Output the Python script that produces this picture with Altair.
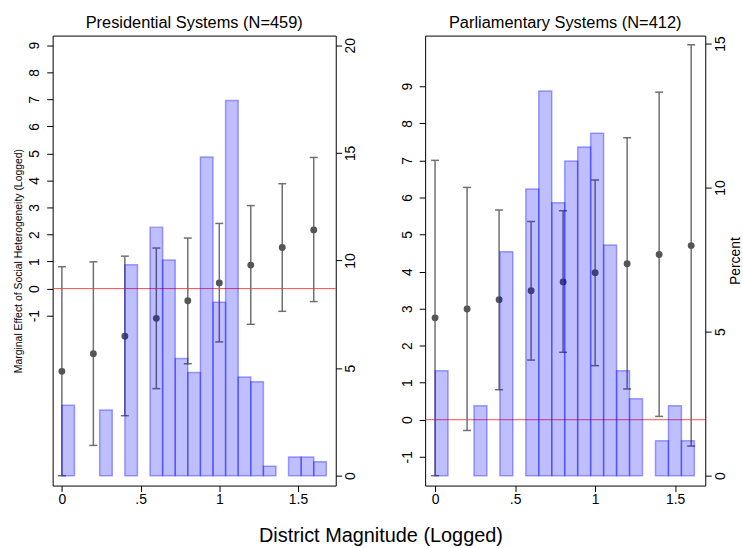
import altair as alt
import pandas as pd

FONT = "Liberation Sans"

# Points at which the marginal effect is evaluated (logged district magnitude)
me_x = [0.0, 0.2, 0.4, 0.6, 0.8, 1.0, 1.2, 1.4, 1.6]

# Presidential systems: marginal effect and 95% confidence bounds
pres_me = [-3.06, -2.41, -1.76, -1.10, -0.45, 0.21, 0.87, 1.52, 2.17]
pres_lo = [-6.92, -5.80, -4.70, -3.70, -2.78, -1.97, -1.32, -0.84, -0.48]
pres_hi = [0.81, 0.99, 1.20, 1.50, 1.87, 2.41, 3.07, 3.88, 4.85]

# Parliamentary systems: marginal effect and 95% confidence bounds
parl_me = [2.75, 2.99, 3.24, 3.48, 3.72, 3.97, 4.21, 4.46, 4.70]
parl_lo = [-1.51, -0.29, 0.81, 1.61, 1.82, 1.46, 0.83, 0.09, -0.71]
parl_hi = [7.00, 6.27, 5.66, 5.35, 5.64, 6.47, 7.61, 8.84, 10.12]

# Histogram of district magnitude (percent of observations per bin)
pres_bin_lo = [0.00, 0.24, 0.40, 0.56, 0.64, 0.72, 0.80, 0.88, 0.96, 1.04,
               1.12, 1.20, 1.28, 1.44, 1.52, 1.60]
pres_bin_hi = [0.08, 0.32, 0.48, 0.64, 0.72, 0.80, 0.88, 0.96, 1.04, 1.12,
               1.20, 1.28, 1.36, 1.52, 1.60, 1.68]
pres_pct = [3.27, 3.05, 9.80, 11.55, 10.02, 5.45, 4.79, 14.81, 8.06, 17.43,
            4.58, 4.36, 0.44, 0.87, 0.87, 0.65]

parl_bin_lo = [0.000, 0.243, 0.405, 0.567, 0.648, 0.729, 0.810, 0.891, 0.972,
               1.053, 1.134, 1.215, 1.377, 1.458, 1.539]
parl_bin_hi = [0.081, 0.324, 0.486, 0.648, 0.729, 0.810, 0.891, 0.972, 1.053,
               1.134, 1.215, 1.296, 1.458, 1.539, 1.620]
parl_pct = [3.64, 2.43, 7.77, 9.95, 13.35, 9.47, 10.92, 11.41, 11.89, 8.01,
            3.64, 2.67, 1.21, 2.43, 1.21]

X_TICKS = [0, 0.5, 1, 1.5]
ME_TICKS = list(range(-1, 10))

GRAY = "#707070"
PLOT_H = 453


def panel(title, me, lo, hi, bin_lo, bin_hi, pct, xdom, ydom, pdom, pticks,
          width, me_title, pct_title):
    pts = pd.DataFrame({"x": me_x, "me": me, "lo": lo, "hi": hi})
    hist = pd.DataFrame({"start": bin_lo, "end": bin_hi, "pct": pct})
    hist["base"] = 0.0
    zero_df = pd.DataFrame({"zero": [0.0]})

    xs = alt.Scale(domain=xdom, nice=False, zero=False)
    ys = alt.Scale(domain=ydom, nice=False, zero=False)
    ps = alt.Scale(domain=pdom, nice=False, zero=False)

    x_axis = alt.Axis(values=X_TICKS, format="~g",
                      labelExpr="datum.value == 0.5 ? '.5' : datum.label",
                      title=None, labelPadding=1, labelBaseline="top")

    # plain hyphen-minus for negative tick labels
    me_axis_kw = dict(orient="left", values=ME_TICKS, labelAngle=270,
                      labelAlign="center", labelBaseline="bottom",
                      labelPadding=5, title=me_title,
                      labelExpr="'' + datum.value")
    if me_title:
        me_axis_kw.update(titleFontSize=10.5, titlePadding=4)
    me_axis = alt.Axis(**me_axis_kw)

    p_axis_kw = dict(orient="right", values=pticks, labelAngle=270,
                     labelAlign="center", labelBaseline="top",
                     labelPadding=2, title=pct_title)
    if pct_title:
        p_axis_kw.update(titleFontSize=14, titleAngle=270,
                         titleBaseline="top", titlePadding=1)
    p_axis = alt.Axis(**p_axis_kw)

    X = alt.X("x:Q", scale=xs, axis=x_axis)

    zero = alt.Chart(zero_df).mark_rule(color="#ff2020", strokeWidth=1,
                                        opacity=0.8).encode(
        y=alt.Y("zero:Q", scale=ys, axis=me_axis)
    )
    bars_ci = alt.Chart(pts).mark_rule(color=GRAY, strokeWidth=1.5).encode(
        x=X, y=alt.Y("lo:Q", scale=ys, axis=me_axis), y2="hi:Q"
    )
    cap_lo = alt.Chart(pts).mark_tick(orient="horizontal", size=8,
                                      thickness=1.5, color=GRAY,
                                      opacity=1).encode(
        x=X, y=alt.Y("lo:Q", scale=ys, axis=me_axis)
    )
    cap_hi = alt.Chart(pts).mark_tick(orient="horizontal", size=8,
                                      thickness=1.5, color=GRAY,
                                      opacity=1).encode(
        x=X, y=alt.Y("hi:Q", scale=ys, axis=me_axis)
    )
    dots = alt.Chart(pts).mark_circle(size=48, color="#555555",
                                      opacity=1).encode(
        x=X, y=alt.Y("me:Q", scale=ys, axis=me_axis)
    )
    effects = alt.layer(zero, bars_ci, cap_lo, cap_hi, dots)

    hist_bars = alt.Chart(hist).mark_rect(
        fill="#0000ff", fillOpacity=0.25,
        stroke="#0000ff", strokeOpacity=0.35, strokeWidth=1.5,
    ).encode(
        x=alt.X("start:Q", scale=xs, axis=x_axis),
        x2="end:Q",
        y=alt.Y("pct:Q", scale=ps, axis=p_axis),
        y2="base:Q",
    )

    return alt.layer(effects, hist_bars).resolve_scale(
        y="independent"
    ).properties(
        width=width, height=PLOT_H,
        title=alt.TitleParams(title, fontSize=16.5, offset=4,
                              anchor="middle", frame="group"),
    )


left = panel("Presidential Systems (N=459)", pres_me, pres_lo, pres_hi,
             pres_bin_lo, pres_bin_hi, pres_pct,
             [-0.0587, 1.7398], [-7.285, 9.357], [-0.46, 20.45],
             [0, 5, 10, 15, 20], 285,
             "Marginal Effect of Social Heterogeneity (Logged)", None)

right = panel("Parliamentary Systems (N=412)", parl_me, parl_lo, parl_hi,
              parl_bin_lo, parl_bin_hi, parl_pct,
              [-0.062, 1.688], [-1.777, 10.367], [-0.345, 15.276],
              [0, 5, 10, 15], 282,
              None, "Percent")

chart = alt.hconcat(left, right, spacing=41).properties(
    title=alt.TitleParams("District Magnitude (Logged)", orient="bottom",
                          anchor="middle", fontSize=20, offset=19, dx=3),
    padding={"left": 13, "top": 13, "right": 0, "bottom": 0},
).configure_axis(
    labelFont=FONT, titleFont=FONT, labelFontSize=14,
    labelColor="black", titleColor="black", titleFontWeight="normal",
    tickColor="black", tickSize=6, tickWidth=1, domain=False, grid=False,
    labelOverlap=False,
).configure_title(
    font=FONT, color="black", fontWeight="normal",
).configure_view(
    stroke="black", strokeWidth=1,
)

chart.save("out.html", embed_options={"renderer": "svg", "actions": False})
